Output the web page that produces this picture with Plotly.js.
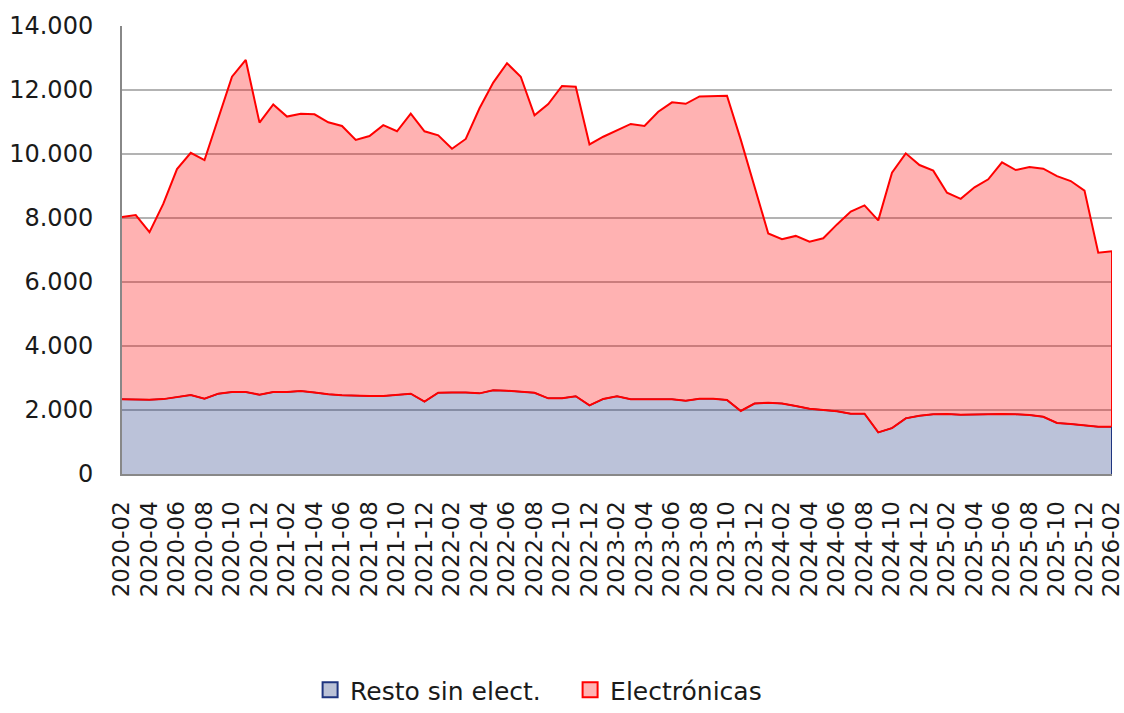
<!DOCTYPE html>
<html>
<head>
<meta charset="utf-8">
<script src="https://cdn.plot.ly/plotly-3.0.1.min.js"></script>
<style>html,body{margin:0;padding:0;background:#fff;}#chart{width:1124px;height:713px;}</style>
</head>
<body>
<div id="chart"></div>
<script>
// Months 2020-02 .. 2026-02
const months = [
"2020-02","2020-03","2020-04","2020-05","2020-06","2020-07","2020-08","2020-09","2020-10","2020-11","2020-12",
"2021-01","2021-02","2021-03","2021-04","2021-05","2021-06","2021-07","2021-08","2021-09","2021-10","2021-11","2021-12",
"2022-01","2022-02","2022-03","2022-04","2022-05","2022-06","2022-07","2022-08","2022-09","2022-10","2022-11","2022-12",
"2023-01","2023-02","2023-03","2023-04","2023-05","2023-06","2023-07","2023-08","2023-09","2023-10","2023-11","2023-12",
"2024-01","2024-02","2024-03","2024-04","2024-05","2024-06","2024-07","2024-08","2024-09","2024-10","2024-11","2024-12",
"2025-01","2025-02","2025-03","2025-04","2025-05","2025-06","2025-07","2025-08","2025-09","2025-10","2025-11","2025-12",
"2026-01","2026-02"];

const resto = [
2335,2320,2320,2340,2415,2470,2355,2510,2560,2560,2480,
2560,2560,2595,2550,2490,2460,2440,2440,2440,2470,2510,2260,
2540,2550,2550,2520,2615,2600,2575,2540,2365,2365,2430,2145,
2345,2430,2335,2335,2335,2335,2290,2355,2355,2310,1970,2200,
2230,2200,2125,2040,2000,1960,1885,1885,1300,1435,1740,1820,
1865,1875,1855,1865,1855,1875,1865,1845,1790,1595,1560,1520,
1480,1480];

const electronicas = [
5695,5770,5240,6100,7115,7565,7455,8580,9855,10380,8500,
8990,8610,8665,8690,8500,8415,8000,8120,8460,8240,8750,8450,
8045,7615,7920,8910,9615,10235,9840,8670,9195,9760,9670,8155,
8195,8320,8605,8540,8985,9280,9280,9445,9465,9510,8480,6750,
5285,5140,5315,5220,5365,5840,6315,6510,6625,7980,8280,7835,
7615,6915,6745,7095,7355,7865,7635,7750,7750,7715,7595,7335,
5435,5480];

const seriesNames = ["Resto sin elect.", "Electrónicas"];
const yTicks = [0,2000,4000,6000,8000,10000,12000,14000];

const total = resto.map((v,i)=>v+electronicas[i]);
const xTicks = months.filter((m,i)=>i%2===0);
const lastX = months[months.length-1];
const lastR = resto[resto.length-1];
const lastT = total[total.length-1];

const blueFill = "rgba(30,52,130,0.30)";
const blueLine = "#1f3580";
const redFill = "rgba(255,0,0,0.30)";
const redLine = "#ff0000";
const FONT = "DejaVu Sans";

const traces = [
  {x: months, y: resto, type:"scatter", mode:"lines", stackgroup:"one",
   fillcolor: blueFill, line:{color: blueLine, width:1.5}, name: seriesNames[0], showlegend:false, hoverinfo:"x+y"},
  {x: months, y: electronicas, type:"scatter", mode:"lines", stackgroup:"one",
   fillcolor: redFill, line:{color: redLine, width:2}, name: seriesNames[1], showlegend:false, hoverinfo:"x+y"},
  // lower outline of the Electrónicas band
  {x: months, y: resto, type:"scatter", mode:"lines", line:{color: redLine, width:2}, showlegend:false, hoverinfo:"skip"},
  // right edges
  {x: [lastX,lastX], y:[0,lastR], type:"scatter", mode:"lines", line:{color: blueLine, width:2}, showlegend:false, hoverinfo:"skip"},
  {x: [lastX,lastX], y:[lastR,lastT], type:"scatter", mode:"lines", line:{color: redLine, width:2}, showlegend:false, hoverinfo:"skip"},
  // legend entries
  {x:[null], y:[null], type:"scatter", mode:"markers", name: seriesNames[0],
   marker:{symbol:"square", size:15, color:"#bbc2d7", line:{color: blueLine, width:2}}},
  {x:[null], y:[null], type:"scatter", mode:"markers", name: seriesNames[1],
   marker:{symbol:"square", size:15, color:"#ffb3b3", line:{color: redLine, width:2}}}
];

const layout = {
  width:1124, height:713,
  margin:{l:122, r:12, t:26, b:239},
  paper_bgcolor:"#fff", plot_bgcolor:"#fff",
  separators:",.",
  font:{family: FONT, size:24, color:"#1a1a1a"},
  showlegend:true,
  legend:{orientation:"h", x:0.19, xanchor:"left", yref:"container", y:-0.005, yanchor:"bottom",
          font:{family: FONT, size:25, color:"#1a1a1a"}, itemwidth:30, entrywidth:215, traceorder:"normal"},
  xaxis:{type:"category", range:[0, months.length-1], tickmode:"array", tickvals:xTicks, ticktext:xTicks,
         tickangle:-90, showgrid:false, showline:true, linecolor:"#888", linewidth:2,
         ticks:"", ticklabelstandoff:16, tickfont:{family: FONT, size:23, color:"#1a1a1a"}, zeroline:false},
  yaxis:{range:[0,14000], tickmode:"array", tickvals:yTicks, tickformat:",d",
         showgrid:true, gridcolor:"#b3b3b3", gridwidth:2, showline:true, linecolor:"#888", linewidth:2,
         ticks:"", ticklabelstandoff:22, tickfont:{family: FONT, size:24, color:"#1a1a1a"}, zeroline:false}
};

Plotly.newPlot("chart", traces, layout, {displayModeBar:false, staticPlot:true});
</script>
</body>
</html>
